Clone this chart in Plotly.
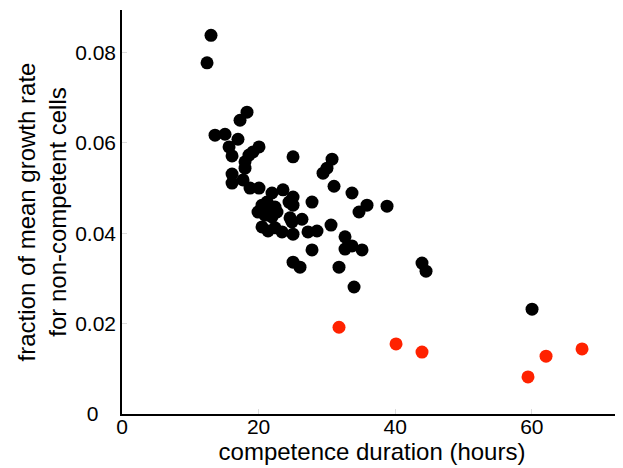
import plotly.graph_objects as go

black_x = [13.03, 12.45, 13.62, 15.08, 17.28, 18.30, 16.98, 15.67, 20.06, 19.18, 18.59, 16.11,
           18.01, 18.01, 25.04, 30.75, 30.01, 29.43, 16.11, 16.11, 17.72, 18.74, 20.06, 21.96,
           23.57, 31.04, 33.67, 27.82, 35.87, 34.70, 38.80, 24.45, 25.04, 25.04, 20.50, 21.23,
           21.67, 22.40, 19.91, 20.94, 21.96, 22.69, 24.60, 26.35, 24.89, 20.50, 21.38, 22.40,
           23.43, 25.04, 27.23, 28.55, 30.60, 32.65, 33.67, 32.65, 35.14, 27.82, 25.04, 26.06,
           31.77, 33.97, 43.92, 44.51, 60.03]
black_y = [0.0838, 0.0777, 0.0617, 0.0619, 0.0650, 0.0668, 0.0608, 0.0591, 0.0591, 0.0580,
           0.0573, 0.0571, 0.0558, 0.0544, 0.0569, 0.0564, 0.0544, 0.0533, 0.0531, 0.0511,
           0.0518, 0.0500, 0.0500, 0.0489, 0.0496, 0.0504, 0.0489, 0.0469, 0.0462, 0.0447,
           0.0460, 0.0469, 0.0480, 0.0462, 0.0462, 0.0469, 0.0451, 0.0458, 0.0447, 0.0440,
           0.0436, 0.0447, 0.0434, 0.0431, 0.0425, 0.0414, 0.0405, 0.0412, 0.0403, 0.0398,
           0.0403, 0.0405, 0.0418, 0.0392, 0.0372, 0.0365, 0.0363, 0.0363, 0.0336, 0.0325,
           0.0325, 0.0281, 0.0334, 0.0316, 0.0232]

red_x = [31.77, 40.12, 43.92, 59.44, 62.08, 67.35]
red_y = [0.0192, 0.0155, 0.0137, 0.0082, 0.0128, 0.0144]

x_ticks = [0, 20, 40, 60]
y_ticks = [0, 0.02, 0.04, 0.06, 0.08]
y_tick_labels = ["0\u00a0\u00a0\u00a0", "0.02", "0.04", "0.06", "0.08"]

fig = go.Figure()
fig.add_trace(go.Scatter(x=black_x, y=black_y, mode="markers",
                         marker=dict(color="black", size=13, line=dict(width=0)),
                         showlegend=False))
fig.add_trace(go.Scatter(x=red_x, y=red_y, mode="markers",
                         marker=dict(color="#ff2200", size=13, line=dict(width=0)),
                         showlegend=False))

font = dict(family="Liberation Sans, Arial, sans-serif", size=21, color="black")
# page body has an 8px default margin, so the figure is sized to fit inside the window
fig.update_layout(
    width=615, height=460,
    margin=dict(l=114, r=1, t=2, b=54),
    paper_bgcolor="white", plot_bgcolor="white",
    font=font,
    xaxis=dict(range=[0, 73.2], tickvals=x_ticks, showgrid=False, zeroline=False,
               showline=True, linecolor="black", linewidth=1.5,
               ticks="inside", ticklen=5, tickcolor="#dddddd", automargin=False,
               ticklabelstandoff=-7,
               title=dict(text="competence duration (hours)", font=dict(size=24), standoff=0),
               tickfont=dict(size=21)),
    yaxis=dict(range=[0, 0.0894], tickvals=y_ticks, ticktext=y_tick_labels,
               showgrid=False, zeroline=False,
               showline=True, linecolor="black", linewidth=1.5,
               ticks="inside", ticklen=5, tickcolor="#dddddd", automargin=False,
               ticklabelstandoff=0,
               title=dict(text="fraction of mean growth rate<br>for non-competent cells",
                          font=dict(size=24), standoff=2),
               tickfont=dict(size=21)),
)
fig.write_html("out.html")
